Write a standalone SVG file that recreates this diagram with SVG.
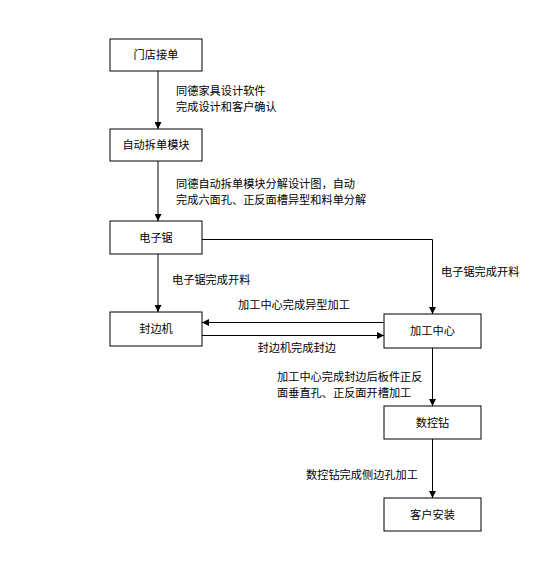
<svg xmlns="http://www.w3.org/2000/svg" width="552" height="585" viewBox="0 0 552 585">
<defs>
<style>
.box{fill:#fff;stroke:#000;stroke-width:1}
.t{font-family:"Noto Sans CJK SC","Liberation Sans",sans-serif;font-size:11.2px;fill:#000}
.c{text-anchor:middle}
.ln{fill:none;stroke:#000;stroke-width:1}
</style>
<marker id="ah" viewBox="0 0 10 10" refX="10" refY="5" markerWidth="7" markerHeight="7" markerUnits="userSpaceOnUse" orient="auto">
<path d="M0,0 L10,5 L0,10 Z" fill="#000"/>
</marker>
</defs>
<rect width="552" height="585" fill="#fff"/>
<g id="connectors">
<line class="ln" x1="158" y1="71" x2="158" y2="129" marker-end="url(#ah)"/>
<line class="ln" x1="158" y1="161" x2="158" y2="221" marker-end="url(#ah)"/>
<line class="ln" x1="158" y1="254" x2="158" y2="312" marker-end="url(#ah)"/>
<polyline class="ln" points="202,239.5 432.5,239.5 432.5,314" marker-end="url(#ah)"/>
<line class="ln" x1="384" y1="322.5" x2="202" y2="322.5" marker-end="url(#ah)"/>
<line class="ln" x1="202" y1="335.5" x2="384" y2="335.5" marker-end="url(#ah)"/>
<line class="ln" x1="432.5" y1="348" x2="432.5" y2="406" marker-end="url(#ah)"/>
<line class="ln" x1="432.5" y1="439" x2="432.5" y2="498" marker-end="url(#ah)"/>
<text class="t" x="176" y="95">同德家具设计软件</text>
<text class="t" x="176" y="111">完成设计和客户确认</text>
<text class="t" x="176" y="188">同德自动拆单模块分解设计图，自动</text>
<text class="t" x="176" y="204">完成六面孔、正反面槽异型和料单分解</text>
<text class="t" x="172" y="284">电子锯完成开料</text>
<text class="t" x="441" y="276">电子锯完成开料</text>
<text class="t" x="238" y="309">加工中心完成异型加工</text>
<text class="t" x="257.5" y="352">封边机完成封边</text>
<text class="t" x="277" y="381">加工中心完成封边后板件正反</text>
<text class="t" x="277" y="397">面垂直孔、正反面开槽加工</text>
<text class="t" x="306" y="479">数控钻完成侧边孔加工</text>
</g>
<g id="n1"><rect class="box" x="110" y="39" width="92" height="32"/><text class="t c" x="156" y="59">门店接单</text></g>
<g id="n2"><rect class="box" x="110" y="129" width="92" height="32"/><text class="t c" x="156" y="149">自动拆单模块</text></g>
<g id="n3"><rect class="box" x="110" y="221" width="92" height="33"/><text class="t c" x="156" y="242">电子锯</text></g>
<g id="n4"><rect class="box" x="110" y="312" width="92" height="34"/><text class="t c" x="156" y="333">封边机</text></g>
<g id="n5"><rect class="box" x="384" y="314" width="97" height="34"/><text class="t c" x="432.5" y="335">加工中心</text></g>
<g id="n6"><rect class="box" x="384" y="406" width="97" height="33"/><text class="t c" x="432.5" y="427">数控钻</text></g>
<g id="n7"><rect class="box" x="384" y="498" width="97" height="33"/><text class="t c" x="432.5" y="519">客户安装</text></g>
</svg>
